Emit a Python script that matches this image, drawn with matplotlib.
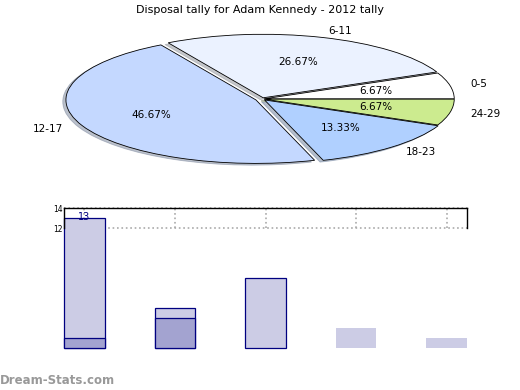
import matplotlib
matplotlib.use("Agg")
import matplotlib.pyplot as plt
import numpy as np

title = "Disposal tally for Adam Kennedy - 2012 tally"
pie_labels = ["0-5", "6-11", "12-17", "18-23", "24-29"]
pie_values = [1, 4, 7, 2, 1]
pie_colors = ["#FFFFFF", "#EBF2FF", "#C4D8FF", "#B0D0FF", "#CCEB8F"]
pie_explode = [0.012, 0.02, 0.035, 0.02, 0.012]

bar_values = [13, 4, 7, 2, 1]
inner_values = [1, 3, 0, 0, 0]
bar_edged = [True, True, True, False, False]
yticks = [12, 14]

fig = plt.figure(figsize=(5.2, 3.9), dpi=100)
fig.text(0.5, 1 - 10/390, title, ha="center", va="center", fontsize=8)

# Pie (stretched into an ellipse)
cx, cy, rx, ry = 262, 99, 190, 63.5
axp = fig.add_axes([(cx - 1.1*rx)/520, 1 - (cy + 1.1*ry)/390, 2.2*rx/520, 2.2*ry/390])
wedges, texts, autotexts = axp.pie(
    pie_values, labels=pie_labels, colors=pie_colors, explode=pie_explode,
    startangle=0, counterclock=True, autopct="%.2f%%", pctdistance=0.6,
    labeldistance=1.11, shadow={"ox": -0.012, "oy": -0.02, "shade": 0.4},
    wedgeprops={"edgecolor": "black", "linewidth": 0.6},
    textprops={"fontsize": 7.5})
axp.set_aspect("auto")
axp.set_xlim(-1.1, 1.1)
axp.set_ylim(-1.1, 1.1)
axp.axis("off")

# Bar chart with axes only covering 12..14, bars unclipped
axb = fig.add_axes([64/520, 1 - 228/390, 403/520, 20/390])
x = np.arange(len(bar_values))
w = 0.45
for i in range(len(bar_values)):
    ec = "#000080" if bar_edged[i] else "none"
    axb.bar(x[i], bar_values[i], width=w, color="#CCCCE5", edgecolor=ec,
            linewidth=0.9, clip_on=False, zorder=2)
    if inner_values[i] > 0:
        axb.bar(x[i], inner_values[i], width=w, color="#A3A3D0", edgecolor="#000080",
                linewidth=0.9, clip_on=False, zorder=3)
axb.set_xlim(-w/2, len(bar_values) - 1 + w/2)
axb.set_ylim(12, 14)
axb.set_yticks(yticks)
axb.set_yticklabels([str(t) for t in yticks], fontsize=5.5)
axb.tick_params(axis="y", length=0, pad=1)
axb.set_xticks(x)
axb.tick_params(axis="x", length=0, labelbottom=False)
axb.grid(True, color="#AAAAAA", linestyle=":", linewidth=1.2, zorder=1)
for gl in axb.get_xgridlines() + axb.get_ygridlines():
    gl.set_clip_on(False)
axb.set_axisbelow(True)
axb.spines["bottom"].set_visible(False)
for s in ["top", "left", "right"]:
    axb.spines[s].set_linewidth(1.0)
axb.text(x[0], bar_values[0] + 0.1, str(bar_values[0]), ha="center", va="center",
         color="#000080", fontsize=7, zorder=5, clip_on=False)

fig.text(0.0, 1 - 380/390, "Dream-Stats.com", ha="left", va="center",
         fontsize=8.5, color="#999999", fontweight="bold")

fig.savefig("out.png", dpi=100)
